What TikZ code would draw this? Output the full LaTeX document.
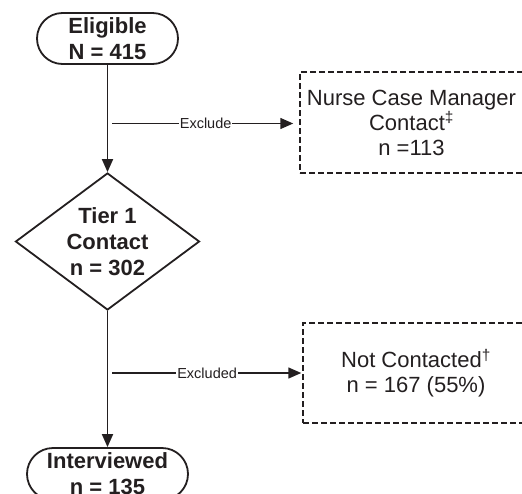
\documentclass[tikz,border=0pt]{standalone}
\usepackage{fontspec}
\setmainfont{Liberation Sans}
\usetikzlibrary{shapes.geometric,shapes.misc,arrows.meta}
\definecolor{ink}{HTML}{231F20}
\tikzset{
  term/.style={draw=ink, line width=1.8pt, rounded rectangle, inner sep=0pt, align=center,
    font=\fontsize{22}{26}\selectfont\bfseries, text=ink},
  decide/.style={draw=ink, line width=1.8pt, diamond, aspect=1.34, inner sep=0pt, align=center,
    minimum width=184pt, minimum height=137pt, font=\fontsize{22}{26}\selectfont\bfseries, text=ink},
  outbox/.style={draw=ink, line width=1.5pt, dash pattern=on 6pt off 3pt, rectangle, inner sep=0pt,
    align=center, font=\fontsize{22}{25}\selectfont, text=ink},
  flow/.style={draw=ink, line width=1.8pt, -{Triangle[length=13pt,width=11pt]}},
  side/.style={draw=ink, line width=1.5pt, -{Triangle[length=13pt,width=11pt]}},
  lab/.style={fill=white, inner sep=1pt, font=\fontsize{14.5}{15}\selectfont, text=ink}
}
\begin{document}
\begin{tikzpicture}[x=1pt,y=-1pt]
\useasboundingbox (0,0) rectangle (522,493);
\clip (0,0) rectangle (522,493);
\node[term, minimum width=141pt, minimum height=51pt] (elig) at (107.5,38.5) {Eligible\\N = 415};
\node[decide] (tier) at (107.5,241.5) {Tier 1\\Contact\\n = 302};
\node[term, minimum width=161pt, minimum height=52pt] (interv) at (107.5,474) {Interviewed\\n = 135};
\node[outbox, minimum width=223pt, minimum height=101pt] (ncm) at (411.5,122.5) {Nurse Case Manager\\Contact\textsuperscript{‡}\\n =113};
\node[outbox, minimum width=226pt, minimum height=100pt] (nc) at (416,373) {Not Contacted\textsuperscript{†}\\n = 167 (55\%)};
\coordinate (s1) at (112,123.5);
\coordinate (s2) at (112,373);
\draw[flow] (elig.south) -- (tier.north);
\draw[flow] (tier.south) -- (interv.north);
\draw[side, shorten >=6pt] (s1) -- node[lab] {Exclude} (s1 -| ncm.west);
\draw[side, shorten >=1pt] (s2) -- node[lab] {Excluded} (s2 -| nc.west);
\end{tikzpicture}
\end{document}
